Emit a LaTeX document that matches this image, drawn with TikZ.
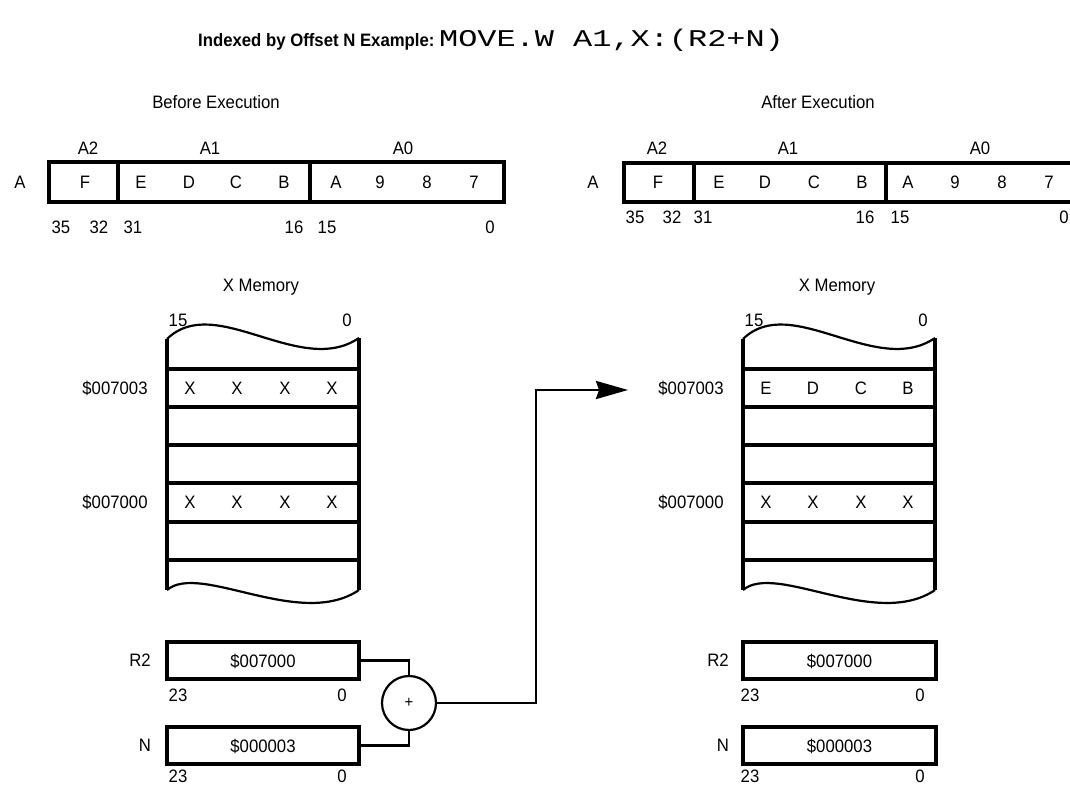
\documentclass[tikz,border=0pt]{standalone}
\usepackage{fontspec}
\setmainfont{Liberation Sans}[FakeStretch=0.93]
\newfontfamily\monof{Liberation Mono}[FakeStretch=1.33]
\usetikzlibrary{arrows.meta}
\begin{document}
\begin{tikzpicture}[x=1pt,y=-1pt,
  lbl/.style={inner sep=0pt, text height=13pt, text depth=0pt, font=\fontsize{18}{20}\selectfont},
  reg/.style={line width=3.2pt},
  wave/.style={line width=2.2pt},
  regbox/.style={lbl, draw, line width=3.2pt, minimum width=192pt, minimum height=37pt},
  conn/.style={line width=2.6pt},
  addr/.style={circle, draw, line width=2.2pt, minimum size=54pt, inner sep=0pt, font=\fontsize{16}{17}\selectfont}
]
\useasboundingbox (0,0) rectangle (1070,786);

% title
\node[inner sep=0pt, anchor=base west] (title) at (198,47)
  {\fontsize{18}{20}\selectfont\bfseries Indexed by Offset N Example:\ \mdseries\monof\fontsize{24}{26}\selectfont MOVE.W A1,X:(R2+N)};

\node[lbl] (before) at (216,102) {Before Execution};
\node[lbl] (after) at (818,102) {After Execution};

% left register
\draw[reg] (49,162) rectangle (504,202);
\draw[reg] (118,162) -- (118,202) (310,162) -- (310,202);
\node[lbl] (lA) at (20,182) {A};
\node[lbl] (lA2) at (88,148) {A2};
\node[lbl] (lA1) at (210,148) {A1};
\node[lbl] (lA0) at (403,148) {A0};
\foreach \x/\t [count=\i] in {85/F,141/E,189/D,236/C,284/B,336/A,380/9,427/8,474/7}
  \node[lbl] (lc\i) at (\x,182) {\t};
\foreach \x/\t [count=\i] in {61/35,99/32,133/31,294/16,327/15,490/0}
  \node[lbl] (lb\i) at (\x,227) {\t};

% right register
\draw[reg] (624,163) rectangle (1080,202);
\draw[reg] (694,163) -- (694,202) (886,163) -- (886,202);
\node[lbl] (rA) at (593,182) {A};
\node[lbl] (rA2) at (657,148) {A2};
\node[lbl] (rA1) at (788,148) {A1};
\node[lbl] (rA0) at (980,148) {A0};
\foreach \x/\t [count=\i] in {658/F,719/E,765/D,814/C,862/B,908/A,955/9,1002/8,1049/7}
  \node[lbl] (rc\i) at (\x,182) {\t};
\foreach \x/\t [count=\i] in {635/35,672/32,703/31,865/16,900/15,1064/0}
  \node[lbl] (rb\i) at (\x,217) {\t};

% memories
\foreach \s/\p in {0/l,576/r} {
  \begin{scope}[xshift=\s pt]
    \draw[wave] (167,339) .. controls (215,292) and (300,378) .. (359,338);
    \draw[wave] (167,590) .. controls (200,562) and (300,630) .. (359,590);
    \draw[reg] (167,339) -- (167,590) (359,338) -- (359,590);
    \foreach \y in {369,407,445,483,522,560}
      \draw[reg] (167,\y) -- (359,\y);
    \node[lbl] (\p xm) at (261,285) {X Memory};
    \node[lbl] (\p m15) at (178,320) {15};
    \node[lbl] (\p m0) at (347,320) {0};
    \node[lbl] (\p ad3) at (115,388) {\$007003};
    \node[lbl] (\p ad0) at (115,502) {\$007000};
    \foreach \x [count=\i] in {190,237,285,332}
      \node[lbl] (\p low\i) at (\x,502) {X};
  \end{scope}
}
\foreach \x/\t [count=\i] in {190/X,237/X,285/X,332/X}
  \node[lbl] (lhi\i) at (\x,388) {\t};
\foreach \x/\t [count=\i] in {766/E,813/D,861/C,908/B}
  \node[lbl] (rhi\i) at (\x,388) {\t};

% left R2 / N
\node[regbox] (lR2) at (263,660.5) {\$007000};
\node[regbox] (lN) at (263,745.5) {\$000003};
\node[lbl] (lR2l) at (140,660) {R2};
\node[lbl] (lNl) at (145,745) {N};
\node[lbl] (lR2b1) at (178,695) {23};
\node[lbl] (lR2b0) at (342,695) {0};
\node[lbl] (lNb1) at (178,776) {23};
\node[lbl] (lNb0) at (342,776) {0};

% right R2 / N
\node[regbox, minimum width=193pt] (rR2) at (839.5,660.5) {\$007000};
\node[regbox, minimum width=193pt] (rN) at (839.5,745.5) {\$000003};
\node[lbl] (rR2l) at (718,660) {R2};
\node[lbl] (rNl) at (723,745) {N};
\node[lbl] (rR2b1) at (750,695) {23};
\node[lbl] (rR2b0) at (920,695) {0};
\node[lbl] (rNb1) at (750,776) {23};
\node[lbl] (rNb0) at (920,776) {0};

% adder and arrow
\node[addr] (plus) at (409,703) {+};
\draw[conn] (lR2.east) -| (plus.north);
\draw[conn] (lN.east) -| (plus.south);
\coordinate (turn) at (536,390);
\coordinate (tip) at (628,390);
\draw[conn, -{Stealth[length=32pt, width=18pt, inset=3pt]}] (plus.east) -| (turn) -- (tip);
\end{tikzpicture}
\end{document}
